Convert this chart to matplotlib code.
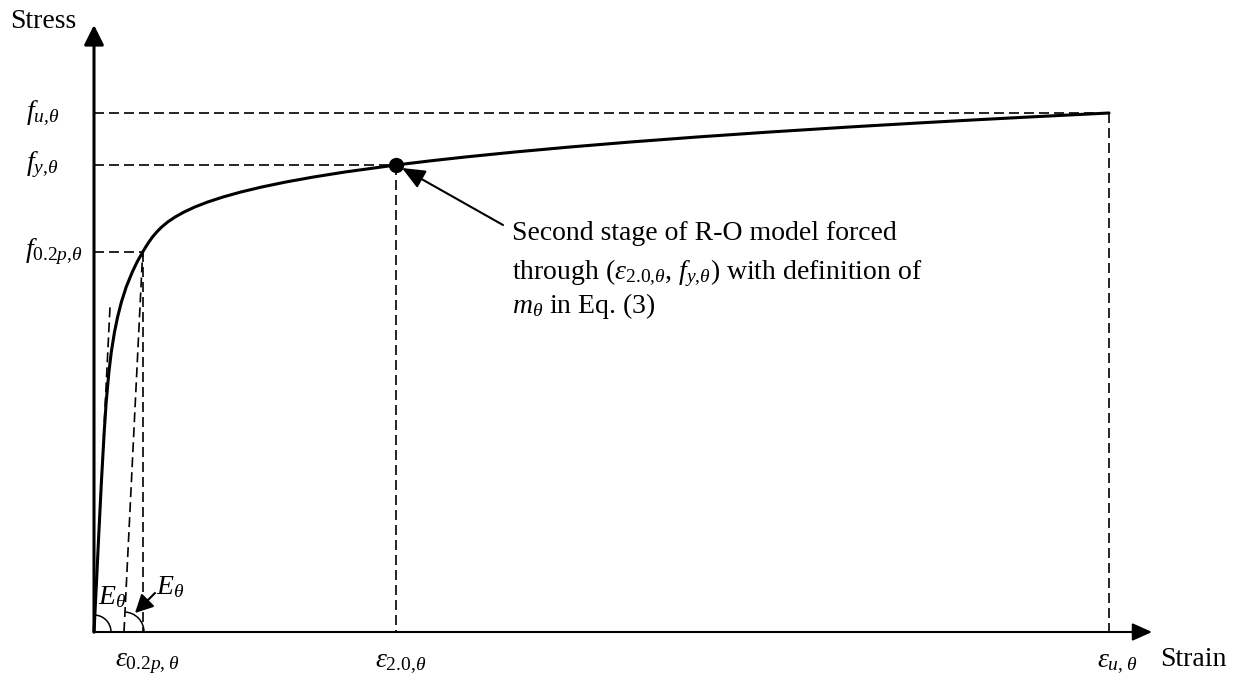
import matplotlib
matplotlib.use('Agg')
import matplotlib.pyplot as plt
from matplotlib.patches import Arc
from matplotlib.transforms import ScaledTranslation

plt.rcParams['font.family'] = 'Liberation Serif'
plt.rcParams['mathtext.fontset'] = 'custom'
plt.rcParams['mathtext.rm'] = 'Liberation Serif'
plt.rcParams['mathtext.it'] = 'Liberation Serif:italic'
plt.rcParams['mathtext.bf'] = 'Liberation Serif:bold'

# stress-strain curve (schematic units)
strain = [0.000, 0.025, 0.049, 0.074, 0.102, 0.122, 0.149, 0.173, 0.205, 0.236,
          0.274, 0.322, 0.383, 0.431, 0.487, 0.517, 0.549, 0.585, 0.627, 0.677,
          0.737, 0.811, 0.901, 1.008, 1.137, 1.290, 1.469, 1.678, 1.919, 2.196,
          2.510, 3.020, 3.351, 3.712, 4.210, 4.760, 5.366, 6.031, 6.760, 7.554,
          8.239, 8.783, 9.352, 10.150]
stress = [0, 50, 100, 150, 200, 230, 260, 280, 300, 315,
          330, 345, 360, 370, 380, 385, 390, 395, 400, 405,
          410, 415, 420, 425, 430, 435, 440, 445, 450, 455,
          460, 467, 471, 475, 480, 485, 490, 495, 500, 505,
          509, 512, 515, 519]

# characteristic points
eps_off = 0.30    # foot of the 0.2% offset line
eps_02 = 0.487
eps_20 = 3.02
eps_u = 10.15
f_02 = 380
f_y = 467
f_u = 519
tangent_top = (0.16, 325)   # end of the initial-modulus line

fig = plt.figure(figsize=(12.4, 6.8), dpi=100)
ax = fig.add_axes([0, 0, 1, 1])
ax.set_xlim(-0.94, 11.46)
ax.set_ylim(-48, 632)
ax.axis('off')

dash = dict(color='k', lw=1.2, linestyle=(0, (6, 3)))

# dashed guide lines
ax.plot([0, eps_u], [f_u, f_u], **dash)
ax.plot([eps_u, eps_u], [f_u, 0], **dash)
ax.plot([0, eps_20], [f_y, f_y], **dash)
ax.plot([eps_20, eps_20], [f_y, 0], **dash)
ax.plot([0, eps_02], [f_02, f_02], **dash)
ax.plot([eps_02, eps_02], [f_02, 0], **dash)
ax.plot([eps_off, eps_02], [0, f_02], **dash)
ax.plot([0, tangent_top[0]], [0, tangent_top[1]], **dash)

# curve and point
ax.plot(strain, stress, color='k', lw=2.2, solid_joinstyle='round',
        solid_capstyle='round', zorder=4)
ax.plot(eps_20, f_y, 'o', ms=10, color='k', zorder=5)

# axes with arrows
ax.annotate('', xy=(10.58, 0), xytext=(0, 0),
            arrowprops=dict(arrowstyle='-|>,head_length=0.6,head_width=0.27',
                            mutation_scale=20, lw=1.5, color='k',
                            shrinkA=0, shrinkB=0), zorder=6)
ax.annotate('', xy=(0, 607), xytext=(0, 0),
            arrowprops=dict(arrowstyle='-|>,head_length=0.6,head_width=0.3',
                            mutation_scale=20, lw=2.2, color='k',
                            shrinkA=0, shrinkB=0), zorder=6)

# modulus arcs, drawn in inches so they stay round
for cx, r in [(0, 0.17), (eps_off, 0.20)]:
    tr = fig.dpi_scale_trans + ScaledTranslation(cx, 0, ax.transData)
    ax.add_patch(Arc((0, 0), 2 * r, 2 * r, theta1=0, theta2=87,
                     color='k', lw=1.1, transform=tr))

fs = 20
ax.text(-0.84, 610, 'Stress', fontsize=fs, ha='left', va='center')
ax.text(10.66, -28, 'Strain', fontsize=fs, ha='left', va='center')

ax.text(-0.68, f_u, r'$f_{u{,}\theta}$', fontsize=fs, ha='left', va='center')
ax.text(-0.68, f_y, r'$f_{y{,}\theta}$', fontsize=fs, ha='left', va='center')
ax.text(-0.69, f_02, r'$f_{0.2p{,}\theta}$', fontsize=fs, ha='left', va='center')

ax.text(eps_02 + 0.05, -31, r'$\varepsilon_{0.2p{,}\;\theta}$', fontsize=fs, ha='center', va='center')
ax.text(eps_20 + 0.05, -31, r'$\varepsilon_{2.0{,}\theta}$', fontsize=fs, ha='center', va='center')
ax.text(eps_u + 0.08, -31, r'$\varepsilon_{u{,}\;\theta}$', fontsize=fs, ha='center', va='center')

ax.text(0.04, 35, r'$E_\theta$', fontsize=fs, ha='left', va='center')
ax.text(0.62, 45, r'$E_\theta$', fontsize=fs, ha='left', va='center')
ax.annotate('', xy=(0.41, 19), xytext=(0.61, 39),
            arrowprops=dict(arrowstyle='-|>,head_length=0.55,head_width=0.28',
                            mutation_scale=20, lw=1.5, color='k',
                            shrinkA=0, shrinkB=0))

# annotation
ax.annotate('', xy=(3.08, 464), xytext=(4.09, 407),
            arrowprops=dict(arrowstyle='-|>,head_length=0.7,head_width=0.3',
                            mutation_scale=20, lw=1.5, color='k',
                            shrinkA=0, shrinkB=0))
ax.text(4.18, 392, 'Second stage of R-O model forced', fontsize=fs, va='baseline')
ax.text(4.18, 353, r'through ($\varepsilon_{2.0{,}\theta}$, $f_{y{,}\theta}$) with definition of',
        fontsize=fs, va='baseline')
ax.text(4.18, 319, r'$m_\theta$ in Eq. (3)', fontsize=fs, va='baseline')

fig.savefig('out.png', dpi=100)
